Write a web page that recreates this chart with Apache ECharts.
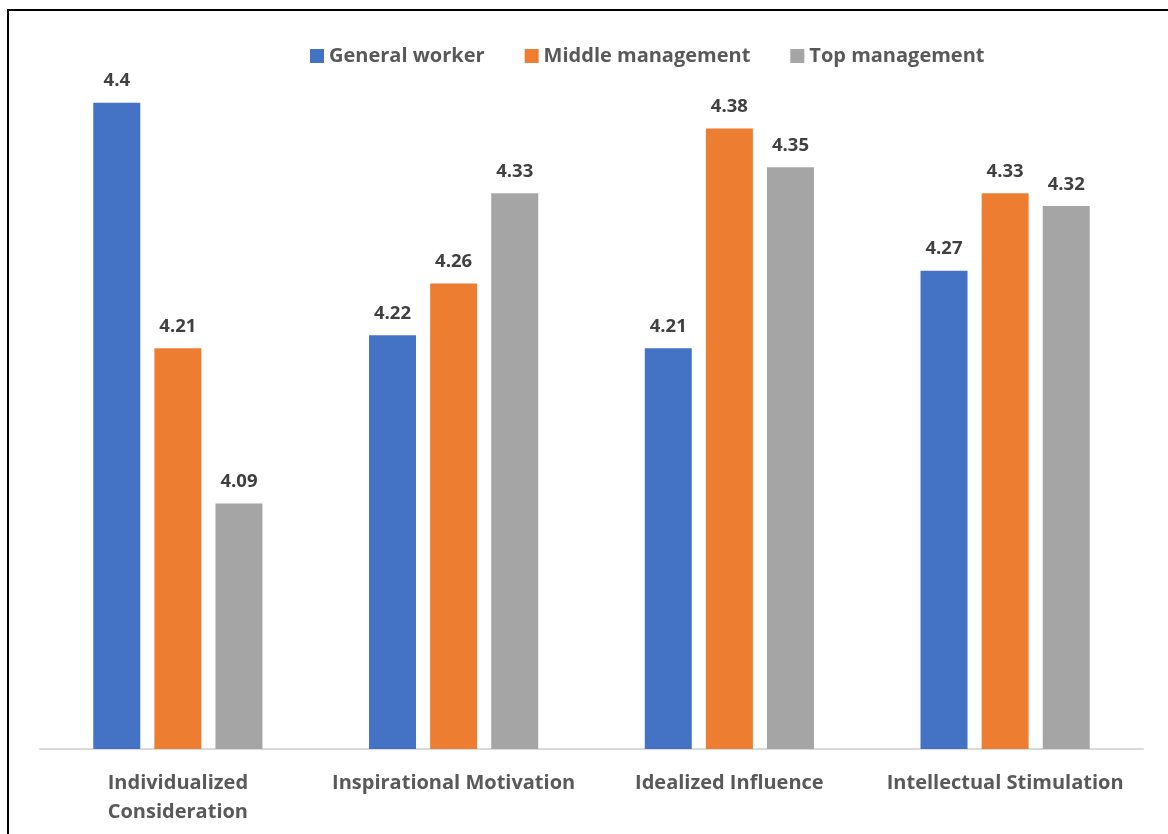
<!DOCTYPE html>
<html>
<head>
<meta charset="utf-8">
<title>Leadership dimensions by position</title>
<script src="https://cdn.jsdelivr.net/npm/echarts@6/dist/echarts.min.js"></script>
<style>
  html, body { margin: 0; padding: 0; background: #ffffff; }
  #chart { width: 1168px; height: 834px; }
</style>
</head>
<body>
<div id="chart"></div>
<script>
// Dimensions of transformational leadership
const categories = [
  'Individualized\nConsideration',
  'Inspirational Motivation',
  'Idealized Influence',
  'Intellectual Stimulation'
];

// Mean scores by employee position
const generalWorker = [4.40, 4.22, 4.21, 4.27];
const middleManagement = [4.21, 4.26, 4.38, 4.33];
const topManagement = [4.09, 4.33, 4.35, 4.32];

const seriesNames = ['General worker', 'Middle management', 'Top management'];
const seriesColors = ['#4472c4', '#ed7d31', '#a5a5a5'];
const seriesData = [generalWorker, middleManagement, topManagement];

const TEXT_FONT = '"Open Sans", Lato, sans-serif';

const chart = echarts.init(document.getElementById('chart'), null, { renderer: 'canvas' });

const option = {
  backgroundColor: '#ffffff',
  animation: false,
  color: seriesColors,
  graphic: [{
    type: 'rect',
    shape: { x: 8, y: 10, width: 2000, height: 2000 },
    style: { fill: 'none', stroke: '#000000', lineWidth: 2 },
    silent: true
  }],
  legend: {
    left: 305,
    top: 41,
    itemWidth: 14,
    itemHeight: 14,
    itemGap: 40,
    icon: 'rect',
    textStyle: { color: '#595959', fontSize: 20, fontWeight: 'bold', fontFamily: TEXT_FONT },
    data: seriesNames
  },
  grid: { left: 40, right: 25, top: 38, bottom: 85, containLabel: false },
  xAxis: {
    type: 'category',
    data: categories,
    axisLine: { show: true, lineStyle: { color: '#d9d9d9', width: 2 } },
    axisTick: { show: false },
    axisLabel: {
      color: '#595959',
      fontSize: 20,
      fontWeight: 'bold',
      fontFamily: TEXT_FONT,
      margin: 20,
      lineHeight: 29,
      interval: 0
    }
  },
  yAxis: {
    type: 'value',
    min: 3.9,
    max: 4.45,
    show: false,
    splitLine: { show: false }
  },
  series: seriesNames.map((name, i) => ({
    name: name,
    type: 'bar',
    data: seriesData[i],
    barWidth: 47,
    barGap: '30%',
    itemStyle: { color: seriesColors[i] },
    label: {
      show: true,
      position: 'top',
      distance: 12,
      color: '#404040',
      fontSize: 18.5,
      fontWeight: 'bold',
      fontFamily: TEXT_FONT,
      formatter: p => String(p.value)
    }
  }))
};

chart.setOption(option);
</script>
</body>
</html>
